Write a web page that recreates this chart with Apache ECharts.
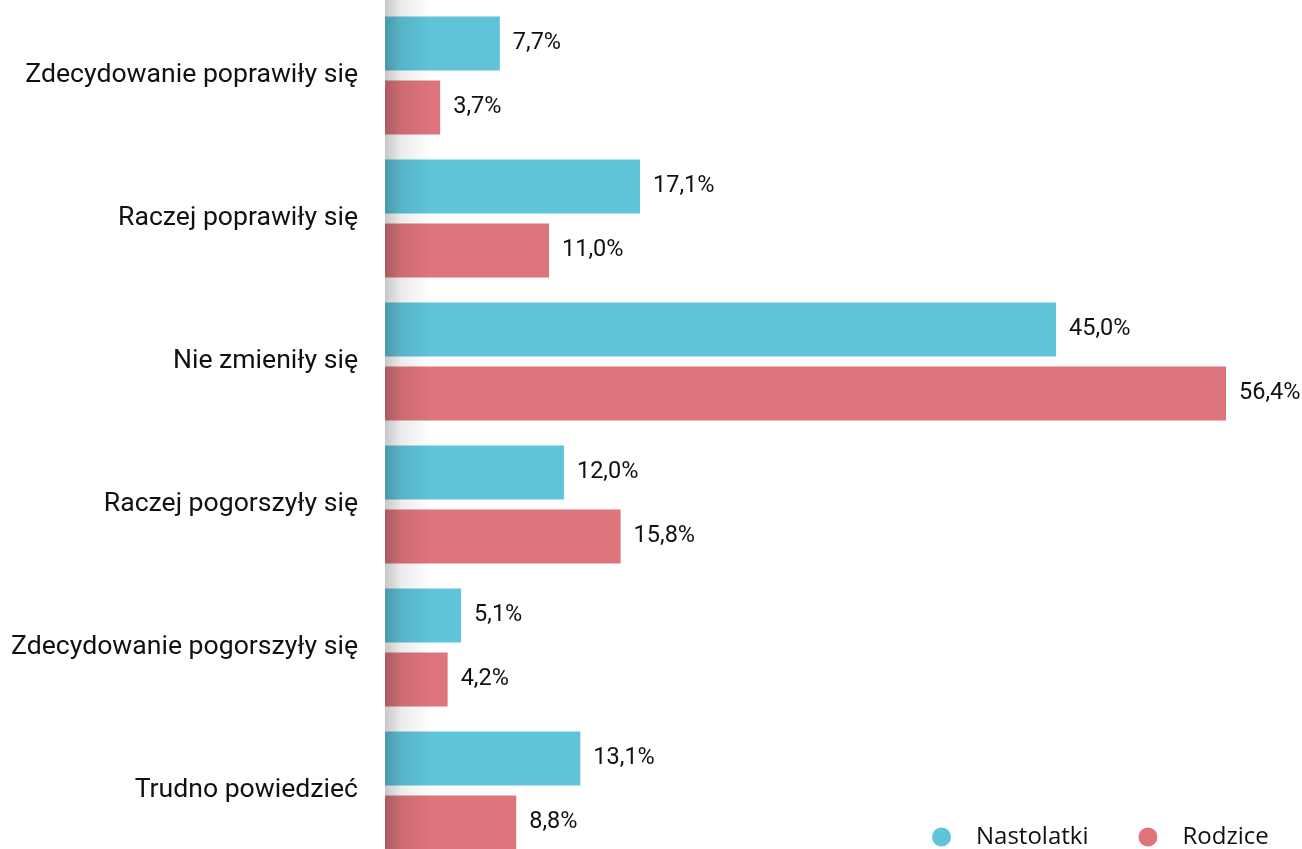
<!DOCTYPE html>
<html>
<head>
<meta charset="utf-8">
<script src="https://cdn.jsdelivr.net/npm/echarts@6/dist/echarts.min.js"></script>
<style>
  html, body { margin: 0; padding: 0; background: #fff; }
  #chart { width: 1302px; height: 849px; }
</style>
</head>
<body>
<div id="chart"></div>
<script>
// Answer categories, top to bottom
const categories = [
  'Zdecydowanie poprawiły się',
  'Raczej poprawiły się',
  'Nie zmieniły się',
  'Raczej pogorszyły się',
  'Zdecydowanie pogorszyły się',
  'Trudno powiedzieć'
];
// Percent of respondents in each group
const nastolatki = [7.7, 17.1, 45.0, 12.0, 5.1, 13.1];
const rodzice = [3.7, 11.0, 56.4, 15.8, 4.2, 8.8];
const seriesNames = ['Nastolatki', 'Rodzice'];

const fmt = p => p.value.toFixed(1).replace('.', ',') + '%';

const chart = echarts.init(document.getElementById('chart'), null, { renderer: 'canvas' });

const labelStyle = {
  show: true,
  position: 'right',
  distance: 13,
  formatter: fmt,
  fontFamily: 'Roboto',
  fontSize: 23.5,
  color: '#111'
};

chart.setOption({
  animation: false,
  backgroundColor: '#fff',
  grid: {
    left: 385, top: 4, right: 76, bottom: -13,
    containLabel: false,
    outerBoundsMode: 'none'
  },
  xAxis: {
    type: 'value',
    min: 0,
    max: 56.4,
    show: false
  },
  yAxis: {
    type: 'category',
    data: categories,
    inverse: true,
    axisLine: { show: false },
    axisTick: { show: false },
    axisLabel: {
      margin: 27,
      fontFamily: 'Roboto',
      fontSize: 26.6,
      color: '#111'
    }
  },
  legend: {
    data: seriesNames,
    left: 927,
    top: 820,
    icon: 'circle',
    itemWidth: 19,
    itemHeight: 19,
    itemGap: 50,
    textStyle: {
      fontFamily: 'Open Sans',
      fontSize: 24,
      color: '#111',
      padding: [0, 0, 0, 20]
    }
  },
  series: [
    {
      name: seriesNames[0],
      type: 'bar',
      data: nastolatki,
      barWidth: 54,
      barGap: '18.5%',
      itemStyle: { color: '#5FC3D9' },
      label: labelStyle
    },
    {
      name: seriesNames[1],
      type: 'bar',
      data: rodzice,
      barWidth: 54,
      itemStyle: { color: '#DE747C' },
      label: labelStyle
    }
  ],
  graphic: [
    {
      // soft shadow running down the category axis
      type: 'rect',
      z: 100,
      silent: true,
      shape: { x: 385, y: 0, width: 46, height: 849 },
      style: {
        fill: new echarts.graphic.LinearGradient(0, 0, 1, 0, [
          { offset: 0, color: 'rgba(0,0,0,0.22)' },
          { offset: 0.35, color: 'rgba(0,0,0,0.08)' },
          { offset: 1, color: 'rgba(0,0,0,0)' }
        ])
      }
    }
  ]
});
</script>
</body>
</html>
